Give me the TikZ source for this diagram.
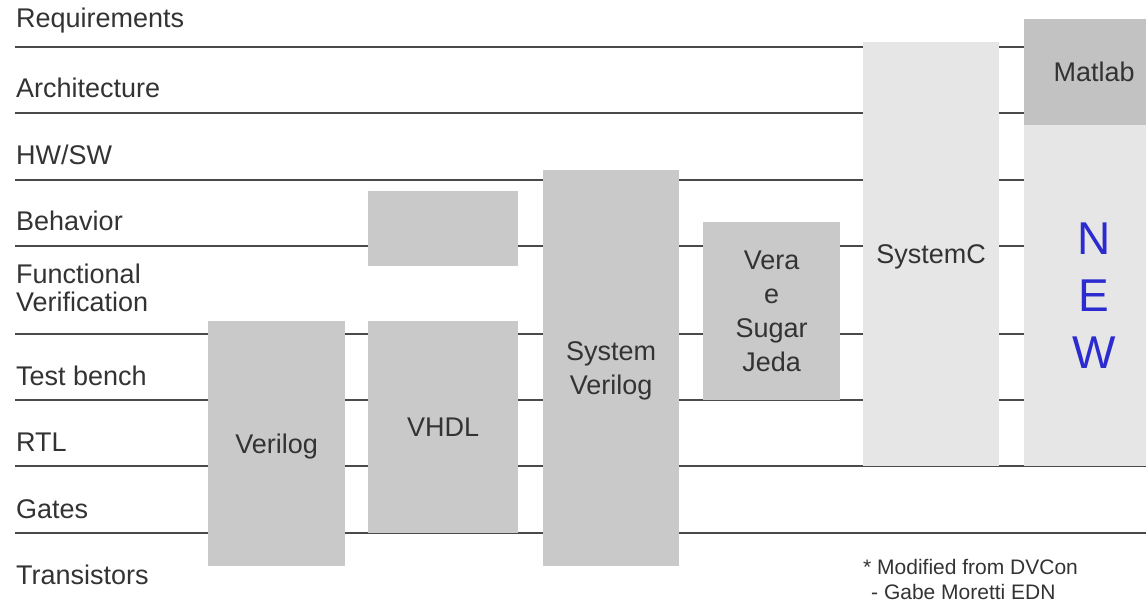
\documentclass[tikz,border=0pt]{standalone}
\usepackage{fontspec}
\setmainfont{Liberation Sans}
\usetikzlibrary{positioning}

\definecolor{rulegray}{HTML}{4A4A4A}
\definecolor{inkgray}{HTML}{333333}
\definecolor{boxgray}{HTML}{C9C9C9}
\definecolor{darkbox}{HTML}{C2C2C2}
\definecolor{lightbox}{HTML}{E6E6E6}
\definecolor{newblue}{HTML}{2B2BD0}

\tikzset{
  levelrule/.style={rulegray, line width=1.6pt},
  levellabel/.style={anchor=west, inner sep=0pt, text=inkgray,
    font=\fontsize{27}{28}\selectfont, align=left},
  langbox/.style={anchor=north west, fill=boxgray, inner sep=0pt, text depth=0pt,
    text=inkgray, font=\fontsize{27}{34}\selectfont, align=center},
}

\begin{document}
\begin{tikzpicture}[x=1pt, y=-1pt]
  \useasboundingbox (0,0) rectangle (1146,605);

  % ====== level rules ======
  \foreach \ly in {47,113,180,246,334,400,466,533}
    \draw[levelrule] (15,\ly) -- (1146,\ly);

  % ====== level names ======
  \node[levellabel] (req)   at (16,21)  {Requirements};
  \node[levellabel] (arch)  at (16,88)  {Architecture};
  \node[levellabel] (hwsw)  at (16,155) {HW/SW};
  \node[levellabel] (behav) at (16,221) {Behavior};
  \node[levellabel] (func)  at (16,288) {Functional\\Verification};
  \node[levellabel] (tb)    at (16,376) {Test bench};
  \node[levellabel] (rtl)   at (16,442) {RTL};
  \node[levellabel] (gates) at (16,509) {Gates};
  \node[levellabel] (trans) at (16,575) {Transistors};

  % ====== languages ======
  \node[langbox, minimum width=137pt, minimum height=245pt] (verilog) at (208,321) {Verilog};
  \node[langbox, minimum width=150pt, minimum height=75pt] (behbox) at (368,191) {};
  \node[langbox, minimum width=150pt, minimum height=212pt] (vhdl) at (368,321) {VHDL};
  \node[langbox, minimum width=136pt, minimum height=396pt] (sysver) at (543,170) {System\\Verilog};
  \node[langbox, minimum width=137pt, minimum height=178pt] (vera) at (703,222) {Vera\\e\\Sugar\\Jeda};
  \node[langbox, fill=lightbox, minimum width=136pt, minimum height=424pt] (systemc) at (863,42) {SystemC};
  \node[langbox, fill=darkbox, minimum width=140pt, minimum height=106pt] (matlab) at (1024,19) {Matlab};
  \node[langbox, fill=lightbox, minimum width=140pt, minimum height=341pt, text=newblue,
    font=\fontsize{46}{57}\selectfont] (new) at (1024,125) {N\\E\\W};

  % ====== source note ======
  \node[anchor=north west, inner sep=0pt, text=inkgray, align=left,
    font=\fontsize{21}{25}\selectfont] (note) at (863,559)
    {* Modified from DVCon\\\hspace*{8pt}- Gabe Moretti EDN};
\end{tikzpicture}
\end{document}
